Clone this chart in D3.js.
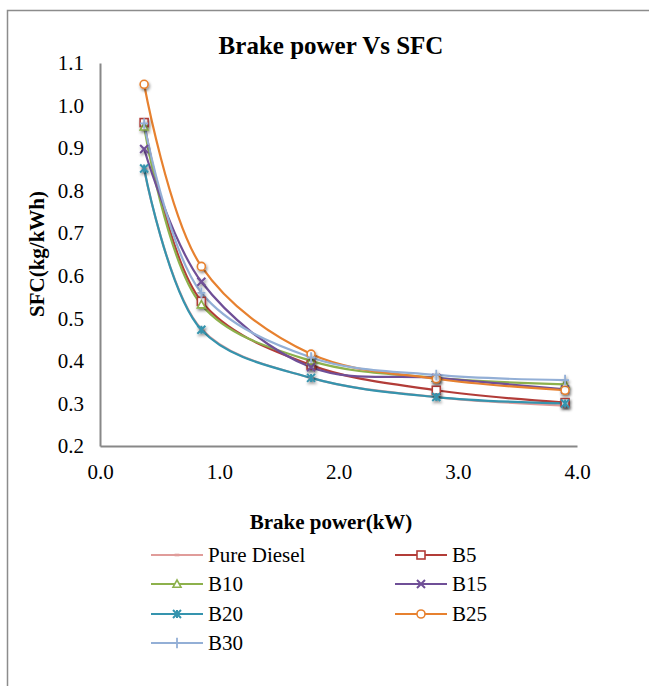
<!DOCTYPE html>
<html lang="en">

<head>
    <meta charset="UTF-8">
    <script src="https://d3js.org/d3.v7.min.js"></script>
    <title>Brake power Vs SFC</title>
    <style>
        body {
            margin: 0;
            background: white;
        }

        text {
            font-family: "Liberation Serif", "Times New Roman", serif;
        }
    </style>
</head>

<body>
    <script>
        /*------------------- data --------------------*/
        // brake power (kW) at the five load steps
        const brakePower = [0.37, 0.85, 1.77, 2.82, 3.90];

        // SFC (kg/kWh) per fuel blend
        const pureDiesel = [0.850, 0.475, 0.360, 0.315, 0.295];
        const b5 = [0.960, 0.540, 0.390, 0.331, 0.302];
        const b10 = [0.950, 0.532, 0.400, 0.360, 0.345];
        const b15 = [0.898, 0.586, 0.385, 0.360, 0.333];
        const b20 = [0.852, 0.473, 0.360, 0.315, 0.300];
        const b25 = [1.050, 0.622, 0.416, 0.358, 0.331];
        const b30 = [0.958, 0.560, 0.408, 0.367, 0.355];

        const seriesNames = ["Pure Diesel", "B5", "B10", "B15", "B20", "B25", "B30"];
        const seriesValues = [pureDiesel, b5, b10, b15, b20, b25, b30];
        const seriesColors = ["#e09c9a", "#b23c38", "#8db14c", "#6f4f97", "#3594ae", "#e7812f", "#93afd6"];
        const seriesMarkers = ["dash", "square", "triangle", "cross", "star", "circle", "plus"];

        const xTicks = [0, 1, 2, 3, 4];
        const yTicks = [0.2, 0.3, 0.4, 0.5, 0.6, 0.7, 0.8, 0.9, 1.0, 1.1];

        /*------------------- layout --------------------*/
        const W = 649, H = 686;
        const plot = { left: 100, right: 577, top: 63, bottom: 446 };

        const svg = d3.select("body").append("svg")
            .attr("width", W)
            .attr("height", H);

        // shadow for the markers
        const defs = svg.append("defs");
        const shadow = defs.append("filter").attr("id", "shadow")
            .attr("x", "-100%").attr("y", "-100%").attr("width", "300%").attr("height", "300%");
        shadow.append("feDropShadow")
            .attr("dx", 1).attr("dy", 2).attr("stdDeviation", 1.6)
            .attr("flood-color", "#000").attr("flood-opacity", 0.45);

        // outer frame (top + left edges only visible)
        svg.append("path")
            .attr("d", `M7.5,${H} V10.5 H${W}`)
            .attr("fill", "none")
            .attr("stroke", "#8c8c8c")
            .attr("stroke-width", 1.5);

        /*------------------- scales --------------------*/
        const x = d3.scaleLinear().domain([0, 4]).range([plot.left, plot.right]);
        const y = d3.scaleLinear().domain([0.2, 1.1]).range([plot.bottom, plot.top]);

        /*------------------- axes --------------------*/
        const xAxis = svg.append("g")
            .attr("transform", `translate(0,${plot.bottom})`)
            .call(d3.axisBottom(x).tickValues(xTicks).tickSize(0).tickPadding(18).tickFormat(d3.format(".1f")));
        const yAxis = svg.append("g")
            .attr("transform", `translate(${plot.left},0)`)
            .call(d3.axisLeft(y).tickValues(yTicks).tickSize(0).tickPadding(16).tickFormat(d3.format(".1f")));

        [xAxis, yAxis].forEach(a => {
            a.select(".domain").attr("stroke", "#888").attr("stroke-width", 2);
            a.selectAll("text")
                .attr("font-family", "Liberation Serif")
                .attr("font-size", 21)
                .attr("fill", "#000");
        });

        /*------------------- titles --------------------*/
        svg.append("text")
            .attr("x", 331).attr("y", 54)
            .attr("text-anchor", "middle")
            .attr("font-size", 25).attr("font-weight", "bold")
            .text("Brake power Vs SFC");

        svg.append("text")
            .attr("x", 331).attr("y", 529)
            .attr("text-anchor", "middle")
            .attr("font-size", 21).attr("font-weight", "bold")
            .text("Brake power(kW)");

        svg.append("text")
            .attr("transform", "translate(44,254) rotate(-90)")
            .attr("text-anchor", "middle")
            .attr("font-size", 21).attr("font-weight", "bold")
            .text("SFC(kg/kWh)");

        /*------------------- markers --------------------*/
        function drawMarker(g, kind, color, size) {
            const s = size;
            if (kind === "dash") {
                g.append("rect").attr("x", -s * 0.6).attr("y", -1.3).attr("width", s * 1.2).attr("height", 2.6)
                    .attr("fill", color);
            } else if (kind === "square") {
                g.append("rect").attr("x", -s).attr("y", -s).attr("width", 2 * s).attr("height", 2 * s)
                    .attr("fill", "white").attr("stroke", color).attr("stroke-width", 1.6);
            } else if (kind === "triangle") {
                g.append("path").attr("d", `M0,${-s} L${s},${s * 0.8} L${-s},${s * 0.8} Z`)
                    .attr("fill", "white").attr("stroke", color).attr("stroke-width", 1.6);
            } else if (kind === "cross") {
                g.append("path").attr("d", `M${-s},${-s} L${s},${s} M${-s},${s} L${s},${-s}`)
                    .attr("stroke", color).attr("stroke-width", 2);
            } else if (kind === "star") {
                g.append("path").attr("d", `M${-s},${-s} L${s},${s} M${-s},${s} L${s},${-s} M0,${-s} V${s}`)
                    .attr("stroke", color).attr("stroke-width", 2);
            } else if (kind === "circle") {
                g.append("circle").attr("r", s)
                    .attr("fill", "white").attr("stroke", color).attr("stroke-width", 1.6);
            } else if (kind === "plus") {
                g.append("path").attr("d", `M${-s},0 H${s} M0,${-s * 1.3} V${s * 1.3}`)
                    .attr("stroke", color).attr("stroke-width", 1.8);
            }
        }

        /*------------------- lines --------------------*/
        const line = d3.line()
            .x(d => x(d[0]))
            .y(d => y(d[1]))
            .curve(d3.curveCatmullRom.alpha(0.5));

        const seriesData = seriesNames.map((name, i) => ({
            name: name,
            color: seriesColors[i],
            marker: seriesMarkers[i],
            points: brakePower.map((bp, j) => [bp, seriesValues[i][j]])
        }));

        svg.append("g").selectAll("path")
            .data(seriesData)
            .enter()
            .append("path")
            .attr("d", d => line(d.points))
            .attr("fill", "none")
            .attr("stroke", d => d.color)
            .attr("stroke-width", 2.2);

        seriesData.forEach(s => {
            s.points.forEach(p => {
                const g = svg.append("g")
                    .attr("transform", `translate(${x(p[0])},${y(p[1])})`)
                    .attr("filter", "url(#shadow)");
                drawMarker(g, s.marker, s.color, 4);
            });
        });

        /*------------------- legend --------------------*/
        const legendCols = [151, 395];
        const legendRows = [555, 584, 614, 643];
        const legend = svg.append("g");
        seriesData.forEach((s, i) => {
            const lx = legendCols[i % 2];
            const ly = legendRows[Math.floor(i / 2)];
            const g = legend.append("g").attr("transform", `translate(${lx},${ly})`);
            g.append("line").attr("x1", 0).attr("x2", 52).attr("y1", 0).attr("y2", 0)
                .attr("stroke", s.color).attr("stroke-width", 2.2);
            drawMarker(g.append("g").attr("transform", "translate(26,0)"), s.marker, s.color, 4);
            g.append("text")
                .attr("x", 57).attr("y", 7)
                .attr("font-size", 21)
                .text(s.name);
        });
    </script>
</body>

</html>
